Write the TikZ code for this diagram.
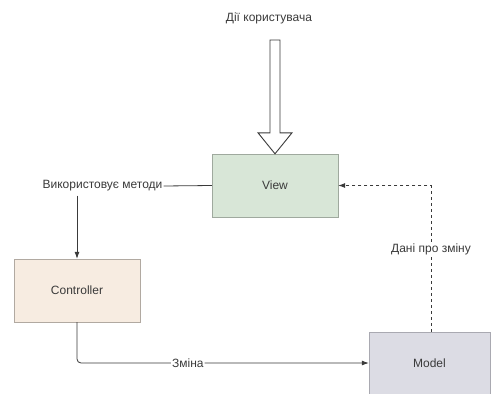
\documentclass[tikz,border=0pt]{standalone}
\usepackage{fontspec}
\setmainfont{Liberation Sans}
\usetikzlibrary{arrows.meta}
\definecolor{viewfill}{HTML}{D8E6D7}
\definecolor{viewline}{HTML}{9FA99E}
\definecolor{ctrlfill}{HTML}{F7ECE1}
\definecolor{ctrlline}{HTML}{B1A9A1}
\definecolor{modelfill}{HTML}{DCDCE4}
\definecolor{modelline}{HTML}{A9A9B1}
\definecolor{ink}{HTML}{3A3A3A}
\begin{document}
\begin{tikzpicture}[x=1pt,y=-1pt,font=\fontsize{12}{14}\selectfont,text=ink,
 block/.style={draw,rectangle,minimum width=126pt,minimum height=63pt,inner sep=0pt},
 lbl/.style={fill=white,inner sep=1pt},
 link/.style={draw=ink,line width=0.8pt,-{Latex[length=7pt,width=5pt]}},
 hollow/.style={draw=ink,fill=white,line width=0.9pt}]
 \useasboundingbox[fill=white](0,0) rectangle (491,394);
 \node (user) at (269,18) {Дії користувача};
 \node[block,fill=viewfill,draw=viewline] (view) at (275,185.5) {View};
 \node[block,fill=ctrlfill,draw=ctrlline] (ctrl) at (77,290.5) {Controller};
 \node[block,fill=modelfill,draw=modelline,minimum width=121pt,minimum height=62pt] (model) at (429.5,363) {Model};
 \node[inner sep=1pt] (methods) at (102.5,186) {Використовує методи};
 \coordinate (usertop) at (275,40);
 \draw[hollow] ([xshift=-5pt]usertop) -- ([xshift=-5pt,yshift=21pt]view.north) -- ([xshift=-17pt,yshift=21pt]view.north) -- (view.north) -- ([xshift=17pt,yshift=21pt]view.north) -- ([xshift=5pt,yshift=21pt]view.north) -- ([xshift=5pt]usertop) -- cycle;
 \draw[draw=ink,line width=0.8pt] (methods.east) -- (view.west);
 \draw[link] ([yshift=-3pt]methods.south -| ctrl.north) -- (ctrl.north);
 \draw[link,rounded corners=4pt] (ctrl.south) |- (model.west) node[lbl,pos=0.69] {Зміна};
 \draw[link,dashed] ([xshift=1.5pt]model.north) |- (view.east) node[lbl,pos=0.28] {Дані про зміну};
\end{tikzpicture}
\end{document}
